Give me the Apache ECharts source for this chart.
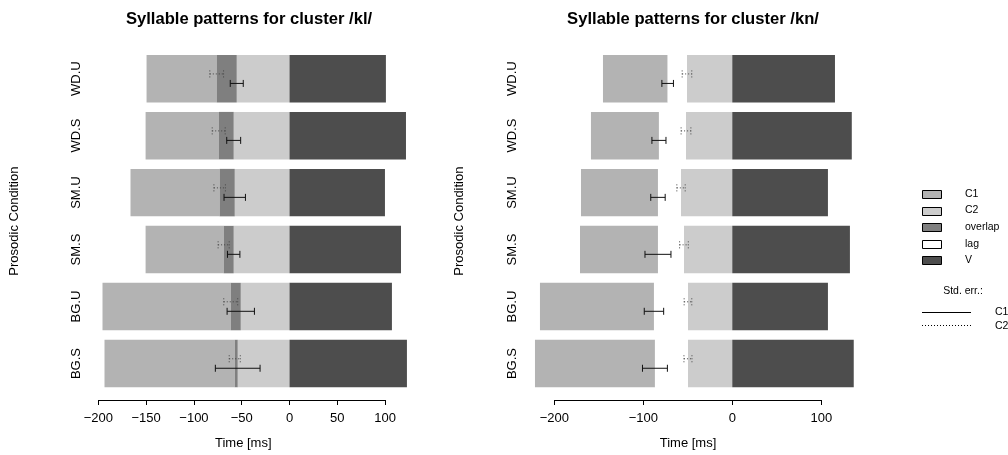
<!DOCTYPE html>
<html>
<head>
<meta charset="utf-8">
<script src="https://cdn.jsdelivr.net/npm/echarts@6/dist/echarts.min.js"></script>
<style>
  html, body { margin: 0; padding: 0; background: #fff; }
  #chart { width: 1008px; height: 455px; }
</style>
</head>
<body>
<div id="chart"></div>
<script>
// Prosodic conditions, bottom to top
const categories = ['BG.S', 'BG.U', 'SM.S', 'SM.U', 'WD.S', 'WD.U'];

// Cluster /kl/ : onsets/offsets in ms relative to vowel onset
const klC1Start = [-193.6, -195.7, -150.6, -166.4, -150.6, -149.6];
const klC1End   = [-54.2, -51.0, -58.4, -57.3, -58.4, -55.2];
const klC2Start = [-57.3, -61.5, -68.9, -73.1, -74.1, -76.2];
const klVEnd    = [122.9, 107.2, 116.7, 99.9, 121.9, 100.9];
const klC1Se    = [23.4, 14.3, 6.5, 11.2, 7.3, 6.8];
const klC2Se    = [5.8, 7.3, 5.8, 6.0, 6.8, 7.2];

// Cluster /kn/
const knC1Start = [-221.7, -216.1, -171.1, -170.0, -158.8, -145.3];
const knC1End   = [-86.9, -88.0, -83.5, -83.5, -82.4, -72.6];
const knC2Start = [-49.8, -49.8, -54.3, -57.6, -52.0, -50.9];
const knVEnd    = [136.5, 107.5, 132.2, 107.5, 134.3, 115.4];
const knC1Se    = [14.0, 10.9, 14.6, 8.1, 7.9, 6.5];
const knC2Se    = [4.5, 4.3, 4.9, 4.7, 5.5, 5.4];

const klTicks = [-200, -150, -100, -50, 0, 50, 100];
const knTicks = [-200, -100, 0, 100];

const segNames = ['C1', 'C2', 'overlap', 'lag', 'V'];
const segColors = { C1: '#b3b3b3', C2: '#cccccc', overlap: '#7f7f7f', lag: '#ffffff', V: '#4d4d4d' };

const FONT = 'Liberation Sans, Arial, Helvetica, sans-serif';

// Split each row into C1-only, overlap or lag, C2-only and vowel segments
function buildSegments(c1s, c1e, c2s, vEnd) {
  const out = { C1: [], C2: [], overlap: [], lag: [], V: [] };
  categories.forEach((cat, i) => {
    const inner = Math.min(c1e[i], c2s[i]);
    const outer = Math.max(c1e[i], c2s[i]);
    out.C1.push([c1s[i], inner, cat]);
    if (c2s[i] < c1e[i]) out.overlap.push([c2s[i], c1e[i], cat]);
    else out.lag.push([c1e[i], c2s[i], cat]);
    out.C2.push([outer, 0, cat]);
    out.V.push([0, vEnd[i], cat]);
  });
  return out;
}

function renderSegment(params, api) {
  const y = api.value(2);
  const a = api.coord([api.value(0), y]);
  const b = api.coord([api.value(1), y]);
  const h = api.size([0, 1])[1] / 1.2;
  return {
    type: 'rect',
    shape: { x: Math.min(a[0], b[0]), y: a[1] - h / 2, width: Math.abs(b[0] - a[0]), height: h },
    style: api.style()
  };
}

// Horizontal error bar with end caps, shifted up (C2) or down (C1) inside the bar
function makeErrRenderer(shift, dash) {
  return function (params, api) {
    const y = api.value(2);
    const c = api.value(0), se = api.value(1);
    const band = api.size([0, 1])[1];
    const a = api.coord([c - se, y]);
    const b = api.coord([c + se, y]);
    const yy = a[1] + shift * band / 1.2;
    const cap = 3.5;
    const st = { stroke: dash ? '#444' : '#111', lineWidth: 1, lineDash: dash ? [1, 2] : null };
    return {
      type: 'group',
      children: [
        { type: 'line', shape: { x1: a[0], y1: yy, x2: b[0], y2: yy }, style: st },
        { type: 'line', shape: { x1: a[0], y1: yy - cap, x2: a[0], y2: yy + cap }, style: st },
        { type: 'line', shape: { x1: b[0], y1: yy - cap, x2: b[0], y2: yy + cap }, style: st }
      ]
    };
  };
}

// Axis baseline spanning the first to the last tick only
function makeBaseline(ticks) {
  return function (params, api) {
    const cs = params.coordSys;
    const a = api.coord([ticks[0], categories[0]]);
    const b = api.coord([ticks[ticks.length - 1], categories[0]]);
    const yy = Math.round(cs.y + cs.height + 8) + 0.5;
    return { type: 'line', shape: { x1: a[0], y1: yy, x2: b[0], y2: yy }, style: { stroke: '#000', lineWidth: 1 } };
  };
}

const fmt = v => (v < 0 ? '\u2212' + Math.abs(v) : String(v));

function panelSeries(idx, c1s, c1e, c2s, vEnd, c1se, c2se, ticks) {
  const segs = buildSegments(c1s, c1e, c2s, vEnd);
  const list = segNames.map(n => ({
    type: 'custom', name: n, xAxisIndex: idx, yAxisIndex: idx, clip: false,
    renderItem: renderSegment, encode: { x: [0, 1], y: 2 },
    itemStyle: { color: segColors[n] }, data: segs[n], silent: true
  }));
  list.push({
    type: 'custom', name: 'seC1', xAxisIndex: idx, yAxisIndex: idx, clip: false, silent: true,
    renderItem: makeErrRenderer(0.1, false), encode: { x: 0, y: 2 },
    data: categories.map((cat, i) => [c1e[i], c1se[i], cat]), z: 5
  });
  list.push({
    type: 'custom', name: 'seC2', xAxisIndex: idx, yAxisIndex: idx, clip: false, silent: true,
    renderItem: makeErrRenderer(-0.1, true), encode: { x: 0, y: 2 },
    data: categories.map((cat, i) => [c2s[i], c2se[i], cat]), z: 5
  });
  list.push({
    type: 'custom', name: 'baseline', xAxisIndex: idx, yAxisIndex: idx, clip: false, silent: true,
    renderItem: makeBaseline(ticks), encode: { x: 0 }, data: [[ticks[0]]]
  });
  return list;
}

function xAxisFor(idx, min, max, ticks) {
  return {
    type: 'value', gridIndex: idx, min: min, max: max, offset: 8,
    axisLine: { show: false },
    splitLine: { show: false },
    axisTick: { show: true, length: 5, customValues: ticks, lineStyle: { color: '#000' } },
    axisLabel: { customValues: ticks, formatter: fmt, margin: 12, fontSize: 13, color: '#000', fontFamily: FONT },
    name: 'Time [ms]', nameLocation: 'middle', nameGap: 37,
    nameTextStyle: { fontSize: 13, color: '#000', fontFamily: FONT }
  };
}

function yAxisFor(idx, nameGap) {
  return {
    type: 'category', gridIndex: idx, data: categories,
    axisLine: { show: false }, axisTick: { show: false }, splitLine: { show: false },
    axisLabel: { rotate: 90, margin: 5, fontSize: 13, color: '#000', fontFamily: FONT },
    name: 'Prosodic Condition', nameLocation: 'middle', nameRotate: 90, nameGap: nameGap,
    nameTextStyle: { fontSize: 13, color: '#000', fontFamily: FONT }
  };
}

// Legend drawn beside the panels
const legendX = 922, legendY0 = 194, legendStep = 16.6;
const legendGraphics = [];
segNames.forEach((n, i) => {
  const y = legendY0 + i * legendStep;
  legendGraphics.push({ type: 'rect', shape: { x: legendX + 0.5, y: Math.round(y - 4) + 0.5, width: 19, height: 8 },
    style: { fill: segColors[n], stroke: '#000', lineWidth: 1 } });
  legendGraphics.push({ type: 'text', x: 965, y: y, style: { text: n, fontSize: 10.5, fontFamily: FONT, fill: '#000', verticalAlign: 'middle' } });
});
legendGraphics.push({ type: 'text', x: 963, y: 291, style: { text: 'Std. err.:', fontSize: 10.5, fontFamily: FONT, fill: '#000', align: 'center', verticalAlign: 'middle' } });
legendGraphics.push({ type: 'line', shape: { x1: 922, y1: 312.5, x2: 971, y2: 312.5 }, style: { stroke: '#000', lineWidth: 1 } });
legendGraphics.push({ type: 'text', x: 995, y: 312.5, style: { text: 'C1', fontSize: 10.5, fontFamily: FONT, fill: '#000', verticalAlign: 'middle' } });
legendGraphics.push({ type: 'line', shape: { x1: 922, y1: 325.5, x2: 971, y2: 325.5 }, style: { stroke: '#000', lineWidth: 1, lineDash: [1, 2] } });
legendGraphics.push({ type: 'text', x: 995, y: 326, style: { text: 'C2', fontSize: 10.5, fontFamily: FONT, fill: '#000', verticalAlign: 'middle' } });

const chart = echarts.init(document.getElementById('chart'), null, { renderer: 'canvas' });
chart.setOption({
  backgroundColor: '#fff',
  animation: false,
  title: [
    { text: 'Syllable patterns for cluster /kl/', left: 244, top: 6, textAlign: 'center',
      textStyle: { fontSize: 16.6, fontWeight: 'bold', color: '#000', fontFamily: FONT } },
    { text: 'Syllable patterns for cluster /kn/', left: 688, top: 6, textAlign: 'center',
      textStyle: { fontSize: 16.6, fontWeight: 'bold', color: '#000', fontFamily: FONT } }
  ],
  grid: [
    { left: 87.5, top: 50.2, width: 311.5, height: 343.2 },
    { left: 523.5, top: 50.2, width: 329, height: 343.2 }
  ],
  xAxis: [
    xAxisFor(0, -211.4, 114.6, klTicks),
    xAxisFor(1, -234.6, 135.1, knTicks)
  ],
  yAxis: [yAxisFor(0, 67), yAxisFor(1, 58)],
  series: [
    ...panelSeries(0, klC1Start, klC1End, klC2Start, klVEnd, klC1Se, klC2Se, klTicks),
    ...panelSeries(1, knC1Start, knC1End, knC2Start, knVEnd, knC1Se, knC2Se, knTicks)
  ],
  graphic: legendGraphics
});
</script>
</body>
</html>
